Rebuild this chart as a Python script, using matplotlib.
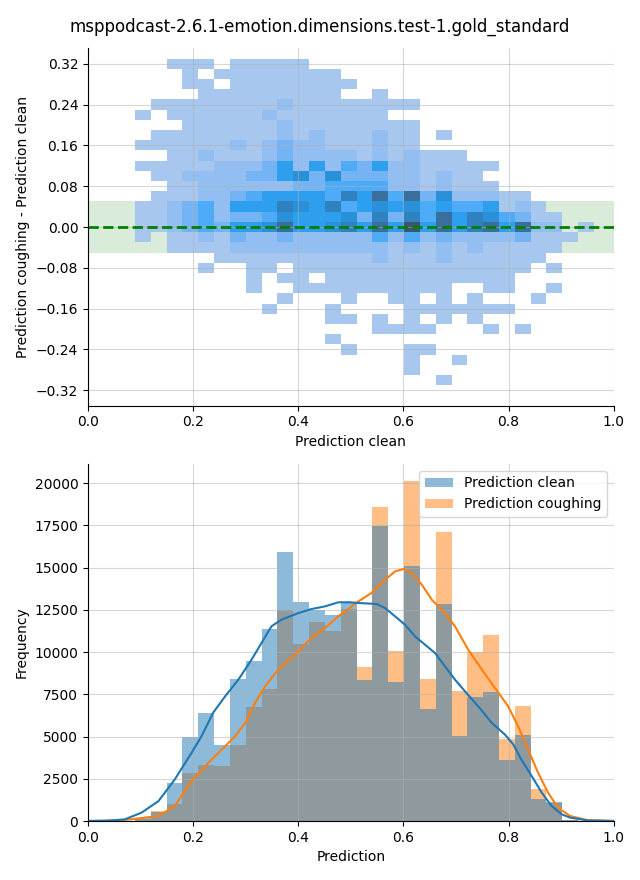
import matplotlib
matplotlib.use("Agg")
import matplotlib.pyplot as plt
import numpy as np
import seaborn as sns

TITLE = "msppodcast-2.6.1-emotion.dimensions.test-1.gold_standard"

# shared x bins
BIN_START = 0.0894
BIN_WIDTH = 0.0301
N_XBINS = 29

# bottom panel: bar heights per bin
clean_counts = [200, 550, 2230, 4960, 6400, 4530, 8430, 9500, 11390, 15940,
                12980, 12500, 12200, 12970, 8370, 17480, 8220, 15110, 6660, 12870,
                5020, 7330, 7630, 3590, 5070, 1280, 1100, 60, 20]
cough_counts = [150, 590, 990, 2820, 3290, 3250, 4530, 6740, 7840, 12510,
                10460, 11800, 11270, 12570, 9120, 18600, 10090, 20140, 8430, 17110,
                7690, 10030, 11040, 4830, 6840, 1870, 1050, 40, 10]

# kde curves
kde_clean_x = [0.0, 0.03, 0.05, 0.07, 0.102, 0.134, 0.165, 0.197, 0.216, 0.238,
               0.261, 0.286, 0.311, 0.33, 0.349, 0.368, 0.4, 0.425, 0.451, 0.476,
               0.498, 0.514, 0.549, 0.565, 0.584, 0.603, 0.622, 0.641, 0.66, 0.679,
               0.698, 0.717, 0.742, 0.768, 0.793, 0.809, 0.824, 0.844, 0.863, 0.882,
               0.901, 0.917, 0.95, 1.0]
kde_clean_y = [5, 20, 50, 100, 500, 1180, 2460, 4040, 5030, 6410,
               7390, 8370, 9550, 10540, 11530, 11920, 12310, 12550, 12710, 12950,
               12950, 12910, 12850, 12610, 12120, 11620, 10930, 10440, 9950, 9160,
               8370, 7680, 6800, 5810, 5120, 4530, 3650, 2660, 1680, 890,
               400, 200, 40, 5]
kde_cough_x = [0.0, 0.05, 0.07, 0.134, 0.165, 0.197, 0.229, 0.261, 0.28, 0.299,
               0.318, 0.337, 0.362, 0.4, 0.425, 0.451, 0.476, 0.489, 0.514, 0.539,
               0.565, 0.584, 0.6, 0.616, 0.635, 0.654, 0.679, 0.698, 0.723, 0.749,
               0.774, 0.799, 0.818, 0.837, 0.856, 0.875, 0.894, 0.917, 0.95, 1.0]
kde_cough_y = [5, 20, 60, 300, 890, 2360, 3450, 4430, 5030, 5810,
               7000, 7980, 8970, 10050, 10840, 11430, 12120, 12410, 13000, 13500,
               14280, 14780, 14920, 14680, 13990, 13100, 12310, 11530, 10150, 8970,
               7880, 6800, 5610, 4240, 2860, 1680, 790, 300, 50, 5]

# top panel: 2d histogram, one row per y bin (0.32 down to -0.30)
# (first x bin, shade codes); '.' = empty cell, 1 = lightest ... 9 = darkest
diff_y = [0.32, 0.30, 0.28, 0.26, 0.24, 0.22, 0.20, 0.18, 0.16, 0.14, 0.12,
          0.10, 0.08, 0.06, 0.04, 0.02, 0.00, -0.02, -0.04, -0.06, -0.08,
          -0.10, -0.12, -0.14, -0.16, -0.18, -0.20, -0.22, -0.24, -0.26,
          -0.28, -0.30]
diff_rows = [
    (2, "111.11111"),
    (3, "1.11111111"),
    (3, "11.11111111"),
    (4, "111111111..1"),
    (1, "11111111211111111"),
    (0, "1.11111121111111"),
    (3, "111111211111111"),
    (1, "1111111121211121 1.1".replace(" ", "")),
    (0, "111111212322111211"),
    (2, "1121112322221212111"),
    (0, "11111222352524352211111"),
    (1, "112222335636333221211"),
    (2, "112222223344442212111"),
    (1, "111223455554758483622211"),
    (0, "11234255576574565645445121"),
    (0, "112342334655563737485764311"),
    (0, "112343556855675859585785822.1"),
    (0, "1.11213223222224242322223111"),
    (2, "1111222222222212121211111"),
    (5, "111111111121112111111"),
    (4, "1..11.111111111111111.1"),
    (7, "1.11.111111111111"),
    (7, "1..1111111111..11..1"),
    (9, "1...1..11.1.1...1"),
    (8, "1...1....1111111"),
    (12, "11.1.1.1.1"),
    (15, "1111...1.1"),
    (12, "1"),
    (13, "1...11"),
    (17, "1..1"),
    (17, "1"),
    (19, "1"),
]
shade_counts = {"1": 20, "2": 90, "3": 170, "4": 250, "5": 340,
                "6": 450, "7": 560, "8": 700, "9": 900}

xedges = BIN_START + BIN_WIDTH * np.arange(N_XBINS + 1)
yedges = np.linspace(-0.31, 0.33, 33)

xs, ys, ws = [], [], []
for yc, (first, codes) in zip(diff_y, diff_rows):
    for i, ch in enumerate(codes):
        if ch != ".":
            xs.append(xedges[first + i] + BIN_WIDTH / 2)
            ys.append(yc)
            ws.append(shade_counts[ch])

fig, (ax1, ax2) = plt.subplots(2, 1, figsize=(6.4, 8.8))
fig.subplots_adjust(left=0.1375, right=0.959, top=0.945, bottom=0.067, hspace=0.163)
fig.suptitle(TITLE, fontsize=12, y=0.98)

# --- top: difference vs clean
ax1.axhspan(-0.05, 0.05, color="green", alpha=0.15, lw=0)
sns.histplot(x=xs, y=ys, weights=ws, bins=[xedges, yedges], ax=ax1)
ax1.axhline(0, color="green", ls="--", lw=2)
ax1.set_xlim(0, 1)
ax1.set_ylim(-0.35, 0.35)
ax1.set_yticks(np.round(np.arange(-0.32, 0.33, 0.08), 2))
ax1.set_xlabel("Prediction clean")
ax1.set_ylabel("Prediction coughing - Prediction clean")
ax1.grid(True, alpha=0.5)

# --- bottom: both distributions
ax2.bar(xedges[:-1], cough_counts, width=BIN_WIDTH, align="edge",
        color="C1", alpha=0.5, lw=0, label="Prediction coughing")
ax2.bar(xedges[:-1], clean_counts, width=BIN_WIDTH, align="edge",
        color="C0", alpha=0.5, lw=0, label="Prediction clean")
ax2.plot(kde_cough_x, kde_cough_y, color="C1", lw=1.5)
ax2.plot(kde_clean_x, kde_clean_y, color="C0", lw=1.5)
ax2.set_xlim(0, 1)
ax2.set_xlabel("Prediction")
ax2.set_ylabel("Frequency")
ax2.grid(True, alpha=0.5)
h, l = ax2.get_legend_handles_labels()
ax2.legend(h[::-1], l[::-1], loc="upper right")

for ax in (ax1, ax2):
    ax.spines["top"].set_visible(False)
    ax.spines["right"].set_visible(False)

fig.savefig("out.png", dpi=100)
